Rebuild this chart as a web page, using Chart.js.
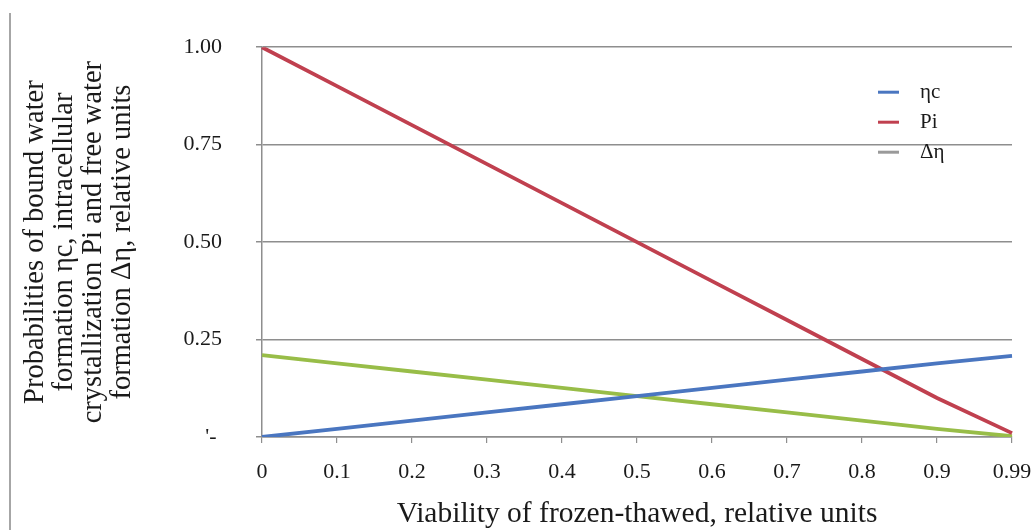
<!DOCTYPE html>
<html><head><meta charset="utf-8">
<script src="https://cdn.jsdelivr.net/npm/chart.js@4.4.1/dist/chart.umd.min.js"></script>
<style>
html,body{margin:0;padding:0;background:#fff;overflow:hidden}
#wrap{position:relative;width:1035px;height:530px}
#border{position:absolute;left:9px;top:13px;width:2px;height:517px;background:#a6a6a6}
canvas{position:absolute;left:0;top:0}
</style></head><body>
<div id="wrap"><div id="border"></div><canvas id="c" width="1035" height="530"></canvas></div>
<script>
const categories = ['0','0.1','0.2','0.3','0.4','0.5','0.6','0.7','0.8','0.9','0.99'];
const etaC = [0, 0.021, 0.042, 0.063, 0.084, 0.105, 0.126, 0.147, 0.168, 0.189, 0.208];
const Pi   = [1.00, 0.90, 0.80, 0.70, 0.60, 0.50, 0.40, 0.30, 0.20, 0.10, 0.01];
const dEta = [0.21, 0.189, 0.168, 0.147, 0.126, 0.105, 0.084, 0.063, 0.042, 0.021, 0.002];
const yTickValues = [0, 0.25, 0.5, 0.75, 1.0];
const yTickLabels = ["'- ", '0.25', '0.50', '0.75', '1.00'];
const seriesNames = ['ηc', 'Pi', 'Δη'];
const yTitle = ['Probabilities of bound water', 'formation ηc, intracellular', 'crystallization Pi and free water', 'formation Δη, relative units'];
const xTitle = 'Viability of frozen-thawed, relative units';

const SERIF = '"Liberation Serif", "Times New Roman", serif';
const GRID = '#8e8e8e';

const legendPlugin = {
  id: 'insideLegend',
  afterDraw(chart) {
    const {ctx, chartArea} = chart;
    ctx.save();
    ctx.font = '21px ' + SERIF;
    ctx.textBaseline = 'middle';
    ctx.fillStyle = '#1a1a1a';
    chart.data.datasets.forEach((ds, i) => {
      const y = chartArea.top + 45 + i * 30;
      const x0 = chartArea.right - 134;
      ctx.strokeStyle = ds.legendColor || ds.borderColor;
      ctx.lineWidth = 3;
      ctx.beginPath(); ctx.moveTo(x0, y); ctx.lineTo(x0 + 21, y); ctx.stroke();
      ctx.fillText(ds.label, x0 + 42, y);
    });
    ctx.restore();
  }
};

new Chart(document.getElementById('c'), {
  type: 'line',
  data: {
    labels: categories,
    datasets: [
      {label: seriesNames[0], data: etaC, borderColor: '#4a76c0', legendColor: '#4a76c0'},
      {label: seriesNames[1], data: Pi, borderColor: '#c0404f', legendColor: '#c0404f'},
      {label: seriesNames[2], data: dEta, borderColor: '#98bd48', legendColor: '#9a9a9a'}
    ].map(d => Object.assign(d, {borderWidth: 3.8, pointRadius: 0, tension: 0, fill: false}))
  },
  options: {
    responsive: false,
    animation: false,
    devicePixelRatio: 1,
    layout: {padding: {left: 10, top: 46, right: 23, bottom: 0}},
    plugins: {legend: {display: false}, tooltip: {enabled: false}},
    scales: {
      x: {
        type: 'category',
        offset: false,
        afterFit(s) { s.height = 93; s.paddingRight = 0; },
        border: {display: true, color: GRID, width: 1.5},
        grid: {drawOnChartArea: false, drawTicks: true, tickLength: 6, color: GRID, lineWidth: 1.2},
        ticks: {color: '#1a1a1a', font: {family: SERIF, size: 22}, padding: 16, maxRotation: 0, autoSkip: false},
        title: {display: true, text: xTitle, color: '#1a1a1a', font: {family: SERIF, size: 29.5, lineHeight: 1}, padding: {top: 0, bottom: 1}}
      },
      y: {
        min: 0, max: 1,
        afterFit(s) { s.width = 252; },
        afterBuildTicks(s) { s.ticks = yTickValues.map(v => ({value: v})); },
        border: {display: true, color: GRID, width: 1.5},
        grid: {color: GRID, lineWidth: 1.5, tickLength: 6},
        ticks: {color: '#1a1a1a', font: {family: SERIF, size: 22}, padding: 34,
          callback: (v) => yTickLabels[yTickValues.indexOf(v)]},
        title: {display: true, text: yTitle, color: '#1a1a1a', font: {family: SERIF, size: 28.5, lineHeight: '29px'}, padding: {top: 11, bottom: 0}}
      }
    }
  },
  plugins: [legendPlugin]
});
</script>
</body></html>
